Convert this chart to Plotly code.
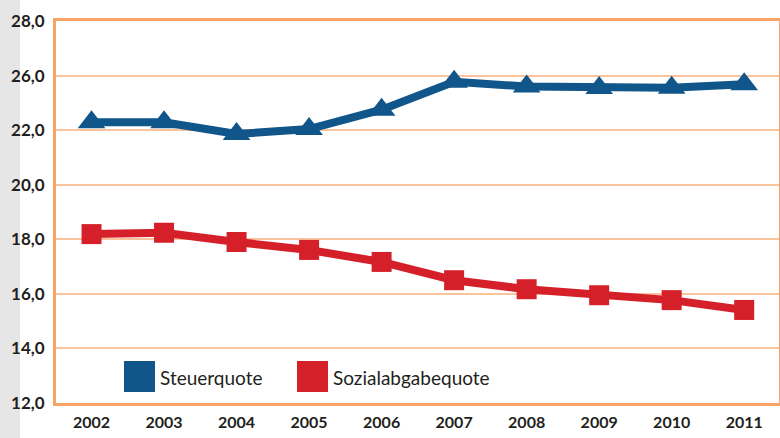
import plotly.graph_objects as go

years = [2002, 2003, 2004, 2005, 2006, 2007, 2008, 2009, 2010, 2011]
steuerquote = [22.29, 22.29, 21.86, 22.04, 22.75, 23.77, 23.6, 23.54, 23.55, 23.68]
sozialabgabequote = [18.19, 18.24, 17.9, 17.61, 17.17, 16.5, 16.17, 15.95, 15.77, 15.41]
tick_vals = [12, 14, 16, 18, 20, 22, 24, 26]
tick_text = ["12,0", "14,0", "16,0", "18,0", "20,0", "22,0", "26,0", "28,0"]
series_names = ["Steuerquote", "Sozialabgabequote"]

blue = "#10568a"
red = "#d52029"
orange = "#f7a466"
grid = "#f9c39c"
font_family = "Lato, 'Open Sans', sans-serif"

fig = go.Figure()
fig.add_trace(go.Scatter(x=years, y=steuerquote, mode="lines+markers", name=series_names[0],
                         line=dict(color=blue, width=8),
                         marker=dict(symbol="triangle-up", size=24, color=blue)))
fig.add_trace(go.Scatter(x=years, y=sozialabgabequote, mode="lines+markers", name=series_names[1],
                         line=dict(color=red, width=8),
                         marker=dict(symbol="square", size=20, color=red)))

W, H = 780, 438
L, R, T, B = 56, 1, 21, 35
pw, ph = W - L - R, H - T - B

def px(x):
    return (x - L) / pw

def py(y):
    return (H - B - y) / ph

shapes = [
    dict(type="rect", xref="paper", yref="paper", x0=px(0), x1=px(20), y0=py(438), y1=py(0),
         fillcolor="#e6e6e6", line=dict(width=0), layer="below"),
    dict(type="rect", xref="paper", yref="paper", x0=px(124), x1=px(155), y0=py(392), y1=py(361),
         fillcolor=blue, line=dict(width=0)),
    dict(type="rect", xref="paper", yref="paper", x0=px(297), x1=px(328), y0=py(392), y1=py(361),
         fillcolor=red, line=dict(width=0)),
]
annotations = [
    dict(xref="paper", yref="paper", x=px(158), y=py(377), xanchor="left", yanchor="middle",
         text=series_names[0], showarrow=False, font=dict(size=19, color="#231f20", family=font_family)),
    dict(xref="paper", yref="paper", x=px(331), y=py(377), xanchor="left", yanchor="middle",
         text=series_names[1], showarrow=False, font=dict(size=19, color="#231f20", family=font_family)),
]

fig.update_layout(
    width=W, height=H,
    margin=dict(l=L, r=R, t=T, b=B),
    paper_bgcolor="white", plot_bgcolor="white",
    showlegend=False,
    shapes=shapes, annotations=annotations,
    font=dict(family=font_family, color="#231f20"),
    xaxis=dict(range=[2001.51, 2011.48], tickvals=years, ticktext=[str(y) for y in years],
               showgrid=False, zeroline=False, showline=True, linecolor=orange, linewidth=3,
               mirror=True, ticks="", tickfont=dict(size=16, family=font_family, weight="bold"),
               ticklabelstandoff=3, automargin=False),
    yaxis=dict(range=[12, 26], tickvals=tick_vals, ticktext=tick_text,
               showgrid=True, gridcolor=grid, gridwidth=1.5, zeroline=False,
               showline=True, linecolor=orange, linewidth=3, mirror=True, ticks="",
               tickfont=dict(size=17, family=font_family, weight="bold"), ticklabelstandoff=5,
               automargin=False),
)

fig.write_html("out.html", config={"displayModeBar": False},
               post_script="document.body.style.margin='0';document.body.style.overflow='hidden';")
